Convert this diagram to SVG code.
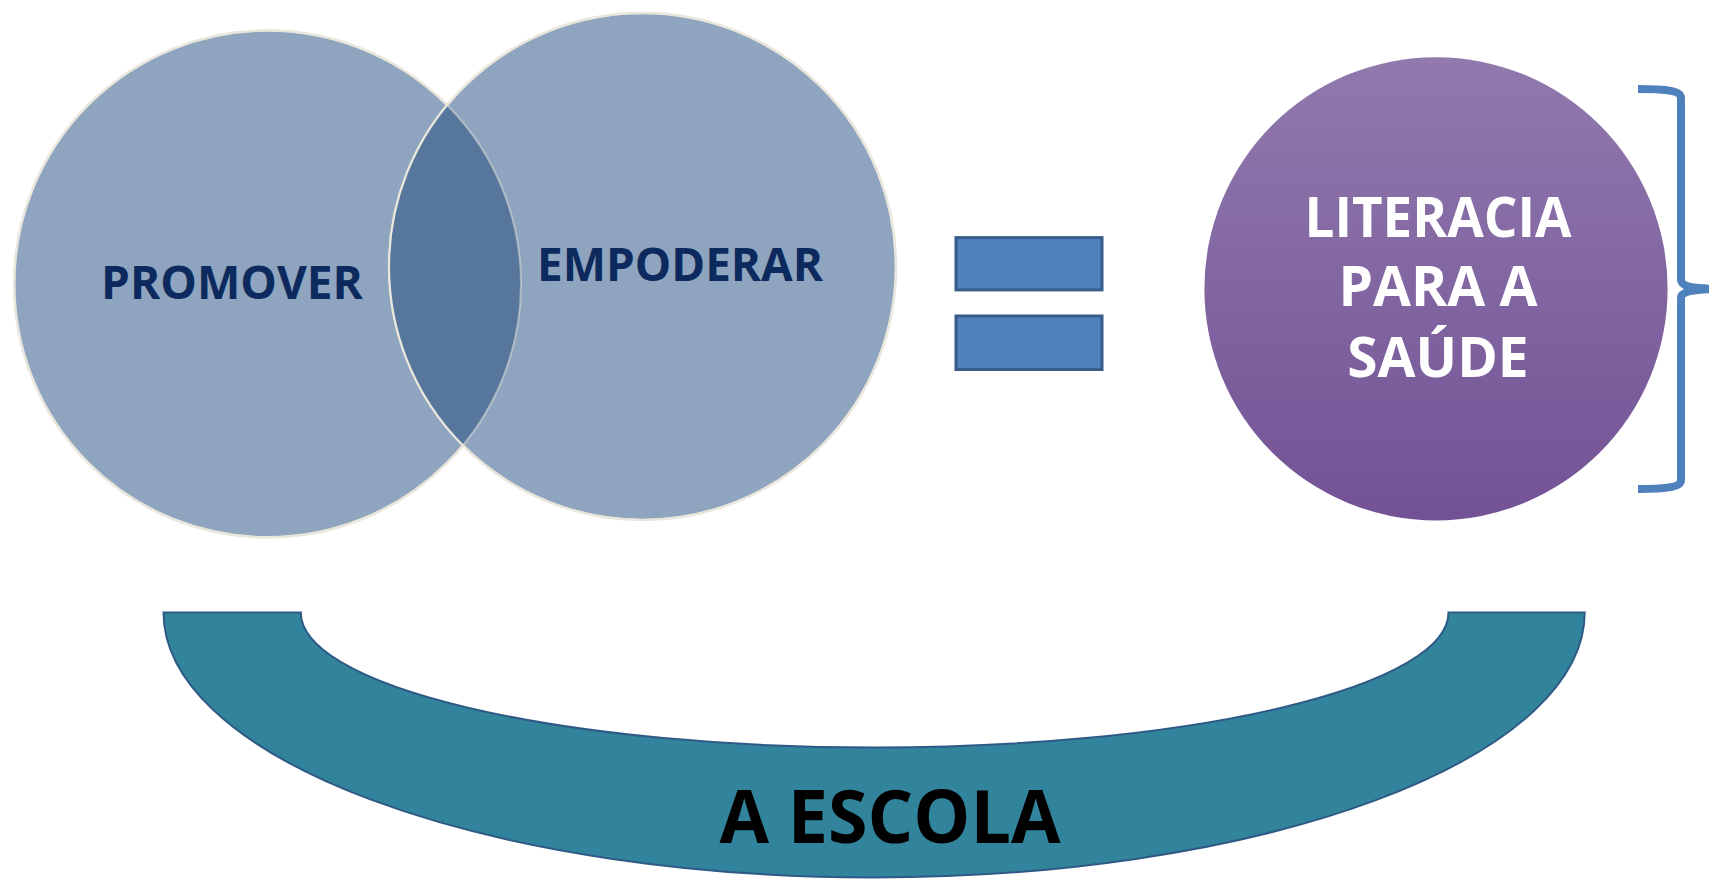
<svg xmlns="http://www.w3.org/2000/svg" width="1709" height="881" viewBox="0 0 1709 881">
  <style>
    .venn { fill: #8fa5bf; stroke: #e9e7dc; stroke-width: 2.5; }
    .outline { fill: none; stroke: #e9e7dc; stroke-width: 2; }
    .vlabel { font-family: "Open Sans", "Liberation Sans", sans-serif; font-weight: 700; font-size: 46px; fill: #0d2a5e; }
    .eq { fill: #4f81bd; stroke: #385d8a; stroke-width: 3; }
    .lit { font-family: "Open Sans", "Liberation Sans", sans-serif; font-weight: 700; font-size: 55px; fill: #ffffff; text-anchor: middle; }
    .escola { font-family: "Open Sans", "Liberation Sans", sans-serif; font-weight: 700; font-size: 73px; fill: #000000; text-anchor: middle; }
  </style>
  <defs>
    <linearGradient id="purple" x1="0" y1="0" x2="0" y2="1">
      <stop offset="0" stop-color="#9179ad"/>
      <stop offset="1" stop-color="#725295"/>
    </linearGradient>
    <clipPath id="clipLeft">
      <circle cx="267.6" cy="283.9" r="253.4"/>
    </clipPath>
  </defs>

  <g id="promover">
    <circle class="venn" cx="267.6" cy="283.9" r="253.4"/>
  </g>
  <g id="empoderar">
    <circle class="venn" cx="642.5" cy="266.5" r="253.4"/>
  </g>
  <g id="intersection">
    <circle cx="642.5" cy="266.5" r="253.4" fill="#56769c" clip-path="url(#clipLeft)"/>
    <circle class="outline" cx="642.5" cy="266.5" r="253.4"/>
    <circle class="outline" cx="267.6" cy="283.9" r="253.4" opacity="0.5"/>
  </g>
  <g id="labels">
    <text class="vlabel" x="101" y="298.5" textLength="262" lengthAdjust="spacingAndGlyphs">PROMOVER</text>
    <text class="vlabel" x="537" y="281" textLength="286" lengthAdjust="spacingAndGlyphs">EMPODERAR</text>
  </g>

  <g id="equals">
    <rect class="eq" x="956" y="237.6" width="146" height="52.3"/>
    <rect class="eq" x="956" y="316" width="146" height="53.5"/>
  </g>

  <g id="literacia">
    <circle cx="1436" cy="288.8" r="231.6" fill="url(#purple)"/>
    <text class="lit" x="1438" y="236.5" textLength="267" lengthAdjust="spacingAndGlyphs">LITERACIA</text>
    <text class="lit" x="1438" y="306">PARA A</text>
    <text class="lit" x="1438" y="377">SAÚDE</text>
  </g>

  <g id="connectors">
    <path id="brace" d="M1638,89 C1668,89 1681,91 1681,98 L1681,280 C1681,286 1691,288 1714,289 C1691,290 1681,292 1681,298 L1681,480 C1681,487 1668,489 1638,489" fill="none" stroke="#4f81bd" stroke-width="8"/>
  </g>

  <g id="escola">
    <path d="M163.5,612.5 L300.8,612.5 A573.8,135 0 0 0 1448.5,612.5 L1584.7,612.5 A710.6,265 0 0 1 163.5,612.5 Z" fill="#31849b" stroke="#2f5a86" stroke-width="2"/>
    <text class="escola" x="890" y="842.5" textLength="341" lengthAdjust="spacingAndGlyphs">A ESCOLA</text>
  </g>
</svg>
